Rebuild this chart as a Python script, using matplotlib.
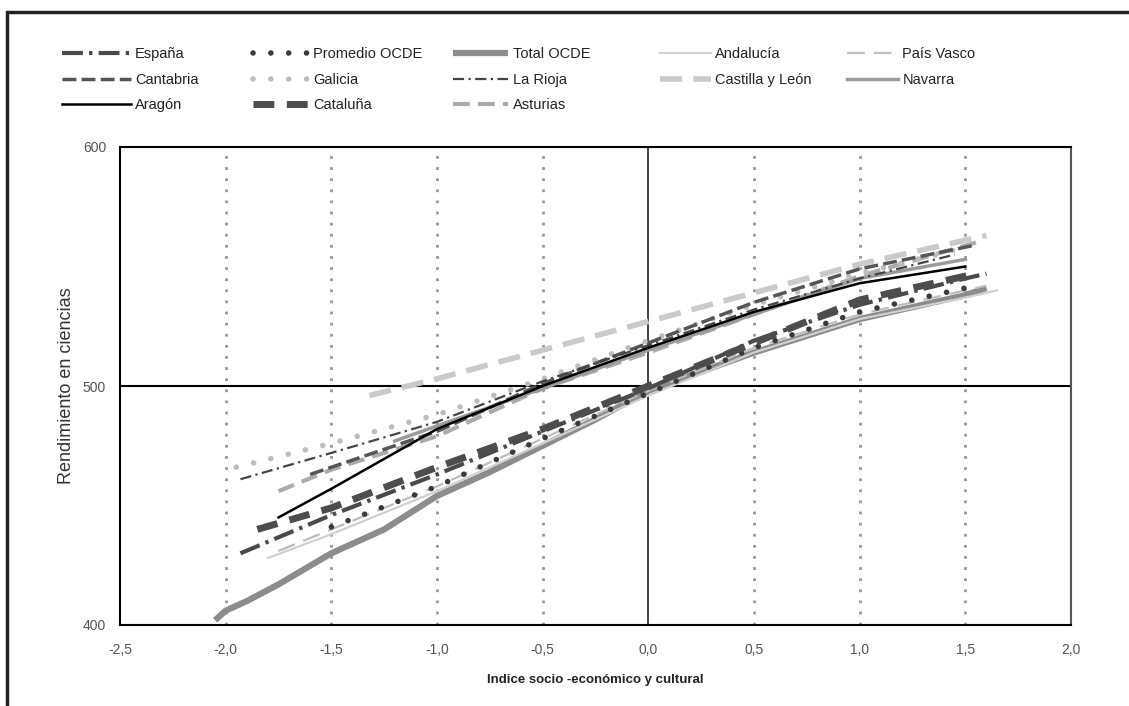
import matplotlib.pyplot as plt
from matplotlib.patches import Rectangle

plt.rcParams['font.family'] = ['Liberation Sans', 'DejaVu Sans']

# valores (indice ESCS -> puntuacion en ciencias)
espana_x = [-1.93, -1.5, -1.0, -0.5, 0.0, 0.5, 1.0, 1.5, 1.6]
espana_y = [430, 446, 463, 481, 499, 519, 534, 545, 547]

promedio_x = [-1.5, -1.0, -0.5, 0.0, 0.5, 1.0, 1.5]
promedio_y = [441, 458, 478, 497, 516, 531, 541]

total_x = [-2.05, -2.0, -1.9, -1.75, -1.5, -1.25, -1.0, -0.75, -0.5, -0.25, 0.0, 0.5, 1.0, 1.5, 1.6]
total_y = [402, 406, 410, 417, 430, 440, 454, 464, 475, 486, 498, 514, 528, 538, 541]

andalucia_x = [-1.8, -1.5, -1.0, -0.5, 0.0, 0.5, 1.0, 1.5, 1.65]
andalucia_y = [428, 438, 456, 476, 496, 514, 528, 537, 540]

pais_vasco_x = [-1.75, -1.5, -1.0, -0.5, 0.0, 0.5, 1.0, 1.6]
pais_vasco_y = [431, 440, 458, 478, 498, 516, 530, 542]

cantabria_x = [-1.6, -1.0, -0.5, 0.0, 0.5, 1.0, 1.55]
cantabria_y = [463, 481, 501, 518, 535, 549, 559]

galicia_x = [-1.95, -1.5, -1.0, -0.5, 0.0, 0.5, 1.0, 1.5]
galicia_y = [466, 476, 488, 503, 519, 534, 547, 558]

rioja_x = [-1.93, -1.5, -1.0, -0.5, 0.0, 0.5, 1.0, 1.45]
rioja_y = [461, 472, 485, 502, 517, 532, 545, 555]

castilla_x = [-1.32, -1.0, -0.5, 0.0, 0.5, 1.0, 1.6]
castilla_y = [496, 503, 515, 527, 539, 551, 563]

navarra_x = [-1.2, -0.5, 0.0, 0.5, 1.0, 1.5]
navarra_y = [477, 499, 515, 530, 545, 553]

aragon_x = [-1.75, -1.5, -1.0, -0.5, 0.0, 0.5, 1.0, 1.5]
aragon_y = [445, 457, 482, 500, 516, 531, 543, 550]

cataluna_x = [-1.85, -1.5, -1.0, -0.5, 0.0, 0.5, 1.0, 1.55]
cataluna_y = [440, 449, 466, 482, 500, 518, 536, 547]

asturias_x = [-1.75, -1.5, -1.0, -0.5, 0.0, 0.5, 1.0, 1.55]
asturias_y = [456, 465, 479, 499, 514, 530, 546, 560]

xticks = [-2.5, -2.0, -1.5, -1.0, -0.5, 0.0, 0.5, 1.0, 1.5, 2.0]
yticks = [400, 500, 600]
grid_x = [-2.0, -1.5, -1.0, -0.5, 0.5, 1.0, 1.5]

W, H = 1129, 706
fig = plt.figure(figsize=(W / 100, H / 100), dpi=100)
ax = fig.add_axes([120 / W, 1 - 625 / H, (1071 - 120) / W, (625 - 147) / H])

dots = (0, (0.01, 3.2))
lines = {}


def draw(name, xs, ys, **kw):
    ln, = ax.plot(xs, ys, label=name, zorder=3, dash_capstyle='butt', **kw)
    lines[name] = ln


draw('Total OCDE', total_x, total_y, color='#8c8c8c', lw=4.5, solid_capstyle='butt')
draw('Andalucía', andalucia_x, andalucia_y, color='#d0d0d0', lw=1.6)
draw('País Vasco', pais_vasco_x, pais_vasco_y, color='#bdbdbd', lw=1.6, ls=(0, (8, 4)))
draw('Promedio OCDE', promedio_x, promedio_y, color='#3a3a3a', lw=4, ls=dots)
lines['Promedio OCDE'].set_dash_capstyle('round')
draw('España', espana_x, espana_y, color='#4a4a4a', lw=3, ls=(0, (5, 1.5, 0.8, 1.5)))
draw('Cataluña', cataluna_x, cataluna_y, color='#4d4d4d', lw=5, ls=(0, (3, 1.8)))
draw('Castilla y León', castilla_x, castilla_y, color='#cacaca', lw=4, ls=(0, (4, 2)))
draw('Asturias', asturias_x, asturias_y, color='#ababab', lw=3, ls=(0, (4, 2)))
draw('Galicia', galicia_x, galicia_y, color='#bdbdbd', lw=4, ls=dots)
lines['Galicia'].set_dash_capstyle('round')
draw('Navarra', navarra_x, navarra_y, color='#9a9a9a', lw=2.5)
draw('Cantabria', cantabria_x, cantabria_y, color='#555555', lw=2.5, ls=(0, (4, 1.5)))
draw('La Rioja', rioja_x, rioja_y, color='#444444', lw=1.6, ls=(0, (5, 2, 1, 2)))
draw('Aragón', aragon_x, aragon_y, color='black', lw=1.8)

ax.set_xlim(-2.5, 2.0)
ax.set_ylim(400, 600)
for v in grid_x:
    ax.axvline(v, color='#999999', lw=2, ls=(0, (1, 3)), zorder=1)
ax.axvline(0, color='#333333', lw=1.3, zorder=2)
ax.axhline(500, color='black', lw=1.5, zorder=2)

ax.set_xticks(xticks)
ax.set_xticklabels([f'{v:.1f}'.replace('.', ',') for v in xticks])
ax.set_yticks(yticks)
ax.tick_params(length=0, labelsize=10, labelcolor='#555555')
ax.tick_params(axis='x', pad=13)
ax.tick_params(axis='y', pad=10)
for s in ax.spines.values():
    s.set_linewidth(1.5)
ax.spines['right'].set_color('#555555')

ax.set_xlabel('Indice socio -económico y cultural', fontsize=9.5, fontweight='bold',
              color='#222222', labelpad=12)
ax.set_ylabel('Rendimiento en ciencias', fontsize=13, color='#333333', labelpad=6)

# leyenda en columnas como en el original
columns = [
    (['España', 'Cantabria', 'Aragón'], 62, 4.7),
    (['Promedio OCDE', 'Galicia', 'Cataluña'], 253, 3.8),
    (['Total OCDE', 'La Rioja', 'Asturias'], 453, 3.8),
    (['Andalucía', 'Castilla y León'], 660, 3.5),
    (['País Vasco', 'Navarra'], 847, 3.5),
]
for names, px, hl in columns:
    fig.legend([lines[n] for n in names], names, loc='upper left',
               bbox_to_anchor=(px / W, 1 - 47 / H), frameon=False, borderpad=0,
               borderaxespad=0, handlelength=hl, handletextpad=0.3,
               labelspacing=0.8, fontsize=10.5, labelcolor='#222222')

fig.add_artist(Rectangle((7 / W, -0.05), 1.2, 1.05 - 12 / H, transform=fig.transFigure,
                         fill=False, edgecolor='#222222', lw=2.5))

fig.savefig('out.png', dpi=100)
